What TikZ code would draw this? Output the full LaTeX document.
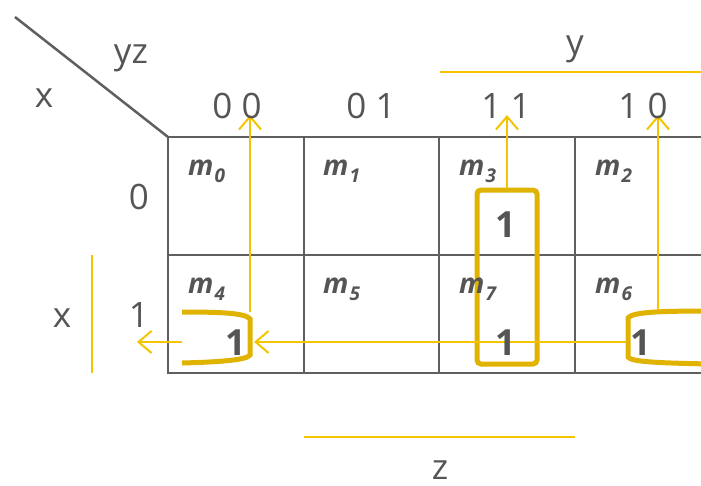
\documentclass[tikz,border=0pt]{standalone}
\usepackage{fontspec}
\setmainfont{Open Sans}
\usetikzlibrary{arrows.meta}

\definecolor{gridgray}{HTML}{5F5F5F}
\definecolor{textgray}{HTML}{555555}
\definecolor{hiline}{HTML}{F5C400}
\definecolor{grpline}{HTML}{DFB300}

\newcommand{\minterm}[1]{\textbf{\textit{m}}\kern1pt\raisebox{-7pt}{\fontsize{19}{19}\selectfont\textbf{\textit{#1}}}}

\begin{document}
\begin{tikzpicture}[x=1pt, y=-1pt, >={Straight Barb[length=13pt,width=22pt]},
    lbl/.style={anchor=base, inner sep=0pt, text=textgray, font=\fontsize{35}{35}\selectfont},
    mlbl/.style={anchor=base west, inner sep=0pt, text=textgray, font=\fontsize{28}{28}\selectfont},
    one/.style={anchor=base, inner sep=0pt, text=textgray, font=\fontsize{36}{36}\selectfont\bfseries},
    hi/.style={hiline, line width=2pt},
    grp/.style={grpline, line width=5pt, rounded corners=4pt}]
    \useasboundingbox (0,0) rectangle (701,485);
    \clip (0,0) rectangle (701,485);
    % corner and grid
    \draw[gridgray, line width=2.5pt] (15,17) -- (168,137);
    \draw[gridgray, line width=2.5pt] (168,137) rectangle (720,373);
    \draw[gridgray, line width=2.5pt] (168,255) -- (720,255);
    \foreach \x in {304,439,575}
        \draw[gridgray, line width=2.5pt] (\x,137) -- (\x,373);
    % variable bars
    \draw[hi] (440,72) -- (710,72);
    \draw[hi] (92,255) -- (92,373);
    \draw[hi] (304,437) -- (575,437);
    % groups
    \draw[grp] (477,190) rectangle (537,364);
    \draw[grp, rounded corners=0pt] (182,312) .. controls (220,312) and (246,313) .. (250,319)
        -- (250,355) .. controls (247,360) and (220,362) .. (182,363);
    \draw[grp, rounded corners=0pt] (710,311) .. controls (660,311) and (632,312) .. (628,318)
        -- (628,357) .. controls (631,362) and (660,363) .. (710,364);
    % arrows
    \coordinate (g4) at (250,312);
    \coordinate (g3) at (507,188);
    \coordinate (g6) at (658,310);
    \coordinate (g6l) at (626,342);
    \coordinate (g4l) at (182,342);
    \coordinate (t00) at (250,115);
    \coordinate (t11) at (507,115);
    \coordinate (t10) at (658,115);
    \coordinate (t4) at (254,342);
    \coordinate (tr1) at (137,342);
    \draw[hi, ->] (g4) -- (t00);
    \draw[hi, ->] (g3) -- (t11);
    \draw[hi, ->] (g6) -- (t10);
    \draw[hi, ->] (g6l) -- (t4);
    \draw[hi, ->] (g4l) -- (tr1);
    % labels
    \node[lbl] (yz) at (131,63) {yz};
    \node[lbl] (xa) at (44,107) {x};
    \node[lbl] (y) at (575,54) {y};
    \node[lbl] (c00) at (237,118) {0 0};
    \node[lbl] (c01) at (371,118) {0 1};
    \node[lbl] (c11) at (506,118) {1 1};
    \node[lbl] (c10) at (643,118) {1 0};
    \node[lbl] (r0) at (139,209) {0};
    \node[lbl] (r1) at (139,327) {1};
    \node[lbl] (xb) at (62,327) {x};
    \node[lbl] (z) at (440,479) {z};
    % minterms
    \node[mlbl] (m0) at (188,175) {\minterm{0}};
    \node[mlbl] (m1) at (323,175) {\minterm{1}};
    \node[mlbl] (m3) at (459,175) {\minterm{3}};
    \node[mlbl] (m2) at (595,175) {\minterm{2}};
    \node[mlbl] (m4) at (188,293) {\minterm{4}};
    \node[mlbl] (m5) at (323,293) {\minterm{5}};
    \node[mlbl] (m7) at (459,293) {\minterm{7}};
    \node[mlbl] (m6) at (595,293) {\minterm{6}};
    % ones
    \node[one] (v3) at (506,237) {1};
    \node[one] (v7) at (506,355) {1};
    \node[one] (v4) at (236,355) {1};
    \node[one] (v6) at (641,355) {1};
\end{tikzpicture}
\end{document}
